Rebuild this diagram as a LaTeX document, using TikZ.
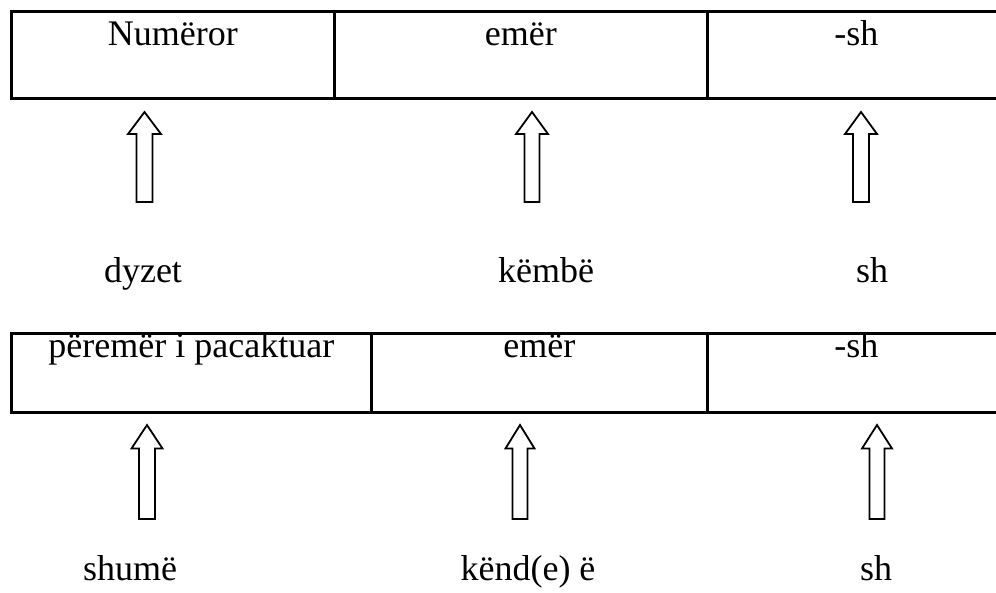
\documentclass[tikz,border=0pt]{standalone}
\usepackage{fontspec}
\setmainfont{Liberation Serif}
\newfontfamily\wordfont{Liberation Serif}
\tikzset{
  x=1pt, y=-1pt,
  cell/.style={draw, line width=2.7pt, anchor=north west, inner sep=0pt,
               minimum width=#1},
  celltop/.style={cell=#1, minimum height=87pt},
  cellbot/.style={cell=#1, minimum height=79pt},
  word/.style={anchor=base, inner sep=0pt,
               font=\wordfont\fontsize{36}{40}\selectfont},
  arrowline/.style={draw, line width=1.8pt, line join=miter},
  % hollow block arrow pointing up; origin at the middle of its foot
  % args: total length, head length, head half-width, shaft half-width
  pics/hollow up/.style n args={4}{code={
    \path[arrowline] ({-#4},0) -- ({-#4},{#2-#1}) -- ({-#3},{#2-#1})
      -- (0,{-#1}) -- ({#3},{#2-#1}) -- ({#4},{#2-#1}) -- ({#4},0) -- cycle;
  }},
}
\begin{document}
\begin{tikzpicture}
\clip (0,0) rectangle (996,592);

% upper row of cells
\node[celltop=323] (a1) at (10,10) {};
\node[celltop=373] (a2) at (333,10) {};
\node[celltop=298] (a3) at (706,10) {};
\node[word] at ([yshift=-35pt]a1.north) {Numëror};
\node[word] at ([yshift=-35pt]a2.north) {emër};
\node[word] at ([yshift=-35pt]a3.north) {-sh};

% words under the upper row
\node[word] (w1) at (143,282) {dyzet};
\node[word] (w2) at (546,282) {këmbë};
\node[word] (w3) at (872,282) {sh};

\pic at (144.5,202) {hollow up={90}{22}{16.5}{8}};
\pic at (532,202) {hollow up={90}{22}{16}{7.5}};
\pic at (861,202) {hollow up={90}{22}{16}{8}};

% lower row of cells
\node[cellbot=360] (b1) at (10,332) {};
\node[cellbot=336] (b2) at (370,332) {};
\node[cellbot=298] (b3) at (706,332) {};
\node[word] at ([yshift=-25pt]b1.north) {përemër i pacaktuar};
\node[word] at ([yshift=-25pt]b2.north) {emër};
\node[word] at ([yshift=-25pt]b3.north) {-sh};

% words under the lower row
\node[word] (v1) at (130,580) {shumë};
\node[word] (v2) at (528,580) {kënd(e) ë};
\node[word] (v3) at (876,580) {sh};

\pic at (147,519) {hollow up={94}{23.5}{15.5}{8}};
\pic at (520,519) {hollow up={94}{23.5}{14.5}{7.5}};
\pic at (877,519) {hollow up={94}{23.5}{15}{7.5}};
\end{tikzpicture}
\end{document}
